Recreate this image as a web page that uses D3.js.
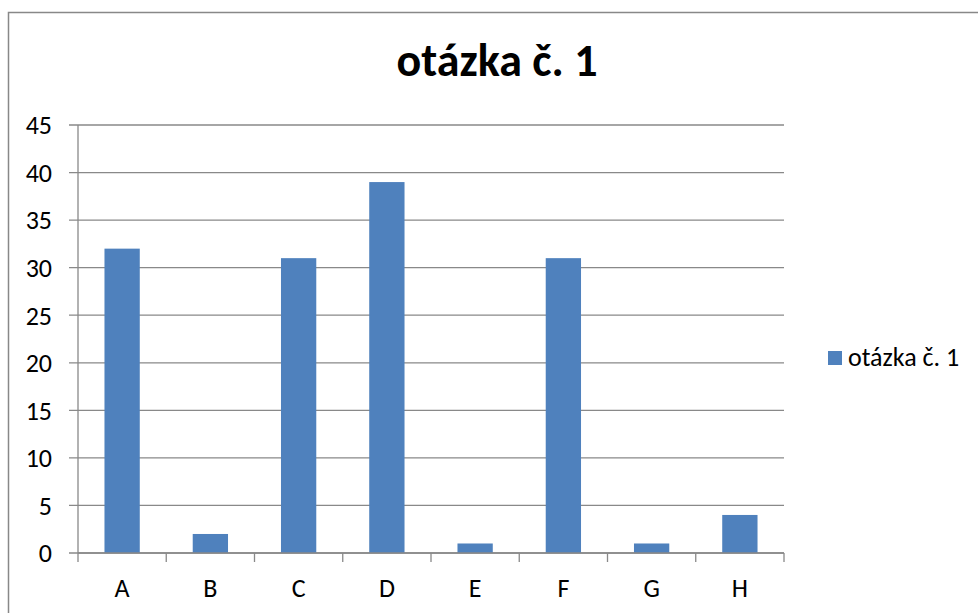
<!DOCTYPE html>
<html>
<head>
<meta charset="utf-8">
<script src="https://cdn.jsdelivr.net/npm/d3@7"></script>
<style>
  body { margin: 0; background: #fff; }
  text { font-family: Carlito, Calibri, Lato, sans-serif; fill: #000; }
</style>
</head>
<body>
<script>
(function () {

// data
var categories = ["A", "B", "C", "D", "E", "F", "G", "H"];
var values = [32, 2, 31, 39, 1, 31, 1, 4];
var seriesName = "otázka č. 1";
var yTicks = [0, 5, 10, 15, 20, 25, 30, 35, 40, 45];

var width = 978;
var height = 613;

var plot = { left: 78, right: 784, top: 125, bottom: 553 };

var svg = d3.select("body")
  .append("svg")
    .attr("width", width)
    .attr("height", height);

// outer chart frame (runs off the right and bottom edge)
svg.append("rect")
  .attr("x", 8.5)
  .attr("y", 12.5)
  .attr("width", 1000)
  .attr("height", 700)
  .attr("fill", "#fff")
  .attr("stroke", "#888")
  .attr("stroke-width", 1.5);

var x = d3.scaleBand()
  .domain(categories)
  .range([plot.left, plot.right])
  .paddingInner(0)
  .paddingOuter(0);

var y = d3.scaleLinear()
  .domain([0, 45])
  .range([plot.bottom, plot.top]);

// gridlines
svg.selectAll(".grid")
  .data(yTicks)
  .enter()
  .append("line")
  .attr("class", "grid")
  .attr("x1", plot.left - 9)
  .attr("x2", plot.right)
  .attr("y1", function(d){ return y(d); })
  .attr("y2", function(d){ return y(d); })
  .attr("stroke", "#898989")
  .attr("stroke-width", 1.3);

// y axis labels
svg.selectAll(".ylab")
  .data(yTicks)
  .enter()
  .append("text")
  .attr("class", "ylab")
  .attr("x", 52)
  .attr("y", function(d){ return y(d); })
  .attr("dy", "0.36em")
  .attr("text-anchor", "end")
  .style("font-size", "26px")
  .text(function(d){ return d; });

// bars
var barW = x.bandwidth() / 2.5;
svg.selectAll(".bar")
  .data(values)
  .enter()
  .append("rect")
  .attr("class", "bar")
  .attr("x", function(d, i){ return x(categories[i]) + (x.bandwidth() - barW) / 2; })
  .attr("y", function(d){ return y(d); })
  .attr("width", barW)
  .attr("height", function(d){ return y(0) - y(d); })
  .attr("fill", "#4F81BD");

// y axis line
svg.append("line")
  .attr("x1", plot.left)
  .attr("x2", plot.left)
  .attr("y1", plot.top)
  .attr("y2", plot.bottom)
  .attr("stroke", "#898989")
  .attr("stroke-width", 1.3);

// x axis line + ticks
svg.append("line")
  .attr("x1", plot.left)
  .attr("x2", plot.right)
  .attr("y1", plot.bottom)
  .attr("y2", plot.bottom)
  .attr("stroke", "#898989")
  .attr("stroke-width", 1.3);

var tickPos = categories.map(function(c){ return x(c); }).concat([plot.right]);
svg.selectAll(".xtick")
  .data(tickPos)
  .enter()
  .append("line")
  .attr("class", "xtick")
  .attr("x1", function(d){ return d; })
  .attr("x2", function(d){ return d; })
  .attr("y1", plot.bottom)
  .attr("y2", plot.bottom + 9)
  .attr("stroke", "#898989")
  .attr("stroke-width", 1.3);

svg.selectAll(".xlab")
  .data(categories)
  .enter()
  .append("text")
  .attr("class", "xlab")
  .attr("x", function(d){ return x(d) + x.bandwidth() / 2; })
  .attr("y", 597)
  .attr("text-anchor", "middle")
  .style("font-size", "26px")
  .text(function(d){ return d; });

// title
svg.append("text")
  .attr("x", 497)
  .attr("y", 76)
  .attr("text-anchor", "middle")
  .style("font-size", "46px")
  .style("font-weight", "bold")
  .text(seriesName);

// legend
svg.append("rect")
  .attr("x", 828)
  .attr("y", 351)
  .attr("width", 14)
  .attr("height", 14)
  .attr("fill", "#4F81BD");

svg.append("text")
  .attr("x", 848)
  .attr("y", 366)
  .style("font-size", "26px")
  .text(seriesName);

}());
</script>
</body>
</html>
